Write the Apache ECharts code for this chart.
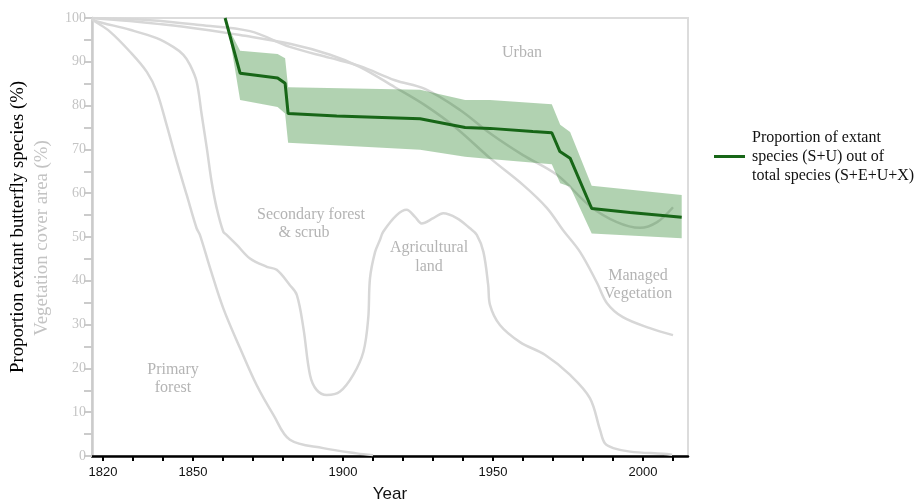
<!DOCTYPE html>
<html><head><meta charset="utf-8">
<script src="https://cdn.jsdelivr.net/npm/echarts@6/dist/echarts.min.js"></script>
<style>html,body{margin:0;padding:0;background:#fff}#c{width:920px;height:504px}</style>
</head><body><div id="c"></div>
<script>
// ---- Data ----
const xTickYears = [1820,1830,1840,1850,1860,1870,1880,1890,1900,1910,1920,1930,1940,1950,1960,1970,1980,1990,2000,2010];
const xLabelYears = [1820,1850,1900,1950,2000];

// Extant species proportion (green line)
const greenYears = [1860.7,1865.7,1878.2,1880.7,1881.7,1897.9,1925.7,1940.7,1949,1963.3,1969.6,1972.3,1975.7,1982.9,1995.7,2012.9];
const greenVals  = [100,87.4,86.3,85.1,78.2,77.6,77.0,75.0,74.8,74.1,73.8,69.5,68.0,56.5,55.6,54.5];

// Uncertainty band
const bandYears = [1860.7,1862.5,1865.7,1878.2,1880.7,1881.7,1925.7,1940.7,1949,1969.6,1972.4,1975.7,1982.9,2012.9];
const bandUpper = [100,96.8,92.5,91.8,90.8,84.2,83.6,81.3,81.3,80.3,75.6,74.0,61.7,59.6];
const bandLower = [100,94.5,81.3,79.7,78.2,71.5,69.9,68.3,67.8,66.6,62.3,61.5,50.8,49.7];

// Vegetation cover boundaries (cumulative %)
const primaryYears = [1816.3,1816.8,1822.3,1829,1834.6,1837.9,1841.2,1844.6,1847.9,1851.2,1852.3,1855.7,1860.1,1865.7,1871.2,1876.8,1882.3,1893.4,1904.6,1910];
const primaryVals  = [100,99.5,96.9,92.3,87.7,83.2,75.6,67.2,59.6,52.0,50.5,42.9,33.7,24.6,16.2,9.4,3.7,1.8,0.6,0.2];

const secondaryYears = [1816.3,1816.7,1829,1837.9,1843.4,1846.8,1849,1851.2,1852.9,1854.6,1856.2,1857.9,1860.1,1861.2,1864.6,1869,1874.6,1877.9,1882.3,1884.6,1886.8,1889,1891.2,1894.6,1899,1903.4,1906.8,1908.4,1909,1910.7,1912.3,1913.4,1917.9,1921.2,1924,1926.2,1930.1,1933.4,1937.9,1942.3,1944.6,1946.8,1948.4,1949,1952.3,1959,1967.3,1975.7,1982.3,1985.7,1987.3,1990.1,1995.7,2006.7,2009.7];
const secondaryVals  = [100,99.5,97.3,95.4,93.4,91.6,89.3,85.5,77.9,70.3,62.6,56.6,51.2,50.5,48.2,45.1,43.2,42.5,39.0,36.8,29.2,18.5,15.1,13.9,14.7,18.5,23.8,31.4,40.6,46.6,49.3,51.2,55.0,56.2,54.6,53.1,54.3,55.4,54.3,52.0,50.5,46.6,39.0,34.5,29.9,26.0,23.1,18.5,13.2,5.9,2.9,1.8,1.0,0.5,0.3];

const managedYears = [1816.3,1829,1839,1852.3,1865.7,1882.3,1895.7,1905.7,1917.3,1927.3,1937.7,1949,1960,1968,1973.3,1979,1984.7,1988,1993.3,2002.3,2010];
const managedVals  = [100,99.3,98.6,97.5,96.1,94.1,91.6,88.8,84.2,80.1,74.9,68.0,61.9,56.6,51.6,46.6,39.5,34.9,31.7,29.2,27.6];

const urbanYears = [1816.3,1835.7,1852.3,1869,1882.3,1895.7,1905.7,1917.3,1927.3,1939,1949,1960,1971.3,1982.3,1991.3,1999,2004.7,2010];
const urbanVals  = [100,99.5,98.4,97.0,93.4,90.9,89.0,85.8,83.8,79.0,73.7,68.7,64.2,57.1,53.4,52.1,53.4,56.8];

const legendName = 'Proportion of extant\nspecies (S+U) out of\ntotal species (S+E+U+X)';

// ---- Build ----
const zip = (a, b) => a.map((v, i) => [v, b[i]]);
const grayLine = (name, xs, ys) => ({
  name, type: 'line', data: zip(xs, ys), symbol: 'none', smooth: 0.35, silent: true,
  lineStyle: { color: '#d7d7d7', width: 2.5 }, z: 2
});

const chart = echarts.init(document.getElementById('c'), null, { renderer: 'canvas' });
const serif = '"Liberation Serif", "Times New Roman", serif';
const labelStyle = (text, x, y) => ({
  type: 'text', x, y, silent: true,
  style: { text, font: '16px ' + serif, fill: '#b4b4b4', textAlign: 'center', textVerticalAlign: 'middle', align: 'center', verticalAlign: 'middle' }
});

chart.setOption({
  animation: false,
  backgroundColor: '#fff',
  grid: { left: 92, right: 232, top: 18, bottom: 48, containLabel: false, outerBoundsMode: 'none',
          show: true, borderColor: '#dcdcdc', borderWidth: 2, backgroundColor: 'transparent' },
  legend: {
    data: [{ name: legendName, icon: 'rect' }],
    left: 709, top: 123, itemWidth: 31, itemHeight: 3,
    selectedMode: false,
    textStyle: { fontFamily: serif, fontSize: 16, color: '#111', lineHeight: 19, padding: [0, 0, 0, 2] }
  },
  xAxis: {
    type: 'value', min: 1816.33, max: 2015,
    name: 'Year', nameLocation: 'middle', nameGap: 30,
    nameTextStyle: { fontFamily: '"Liberation Sans", Arial, sans-serif', fontSize: 17, color: '#111' },
    axisLine: { show: true, onZero: false, lineStyle: { color: '#000', width: 2.5 } },
    axisTick: { show: true, length: 5, customValues: xTickYears, lineStyle: { color: '#000', width: 2 } },
    axisLabel: { customValues: xLabelYears, margin: 10, fontFamily: '"Liberation Sans", Arial, sans-serif', fontSize: 13, color: '#111', formatter: v => String(Math.round(v)) },
    splitLine: { show: false }
  },
  yAxis: {
    type: 'value', min: 0, max: 100, interval: 5,
    axisLine: { show: true, lineStyle: { color: '#cbcbcb', width: 2.5 } },
    axisTick: { show: true, length: 8, lineStyle: { color: '#cbcbcb', width: 2 } },
    axisLabel: { margin: 6, fontFamily: serif, fontSize: 14, color: '#c4c4c4', formatter: v => (v % 10 === 0 ? String(v) : '') },
    splitLine: { show: false }
  },
  graphic: [
    { type: 'text', x: 18, y: 227, rotation: Math.PI / 2, silent: true,
      style: { text: 'Proportion extant butterfly species (%)', font: '18.8px ' + serif, fill: '#000', textAlign: 'center', textVerticalAlign: 'middle', align: 'center', verticalAlign: 'middle' } },
    { type: 'text', x: 42, y: 238, rotation: Math.PI / 2, silent: true,
      style: { text: 'Vegetation cover area (%)', font: '18.8px ' + serif, fill: '#c3c3c3', textAlign: 'center', textVerticalAlign: 'middle', align: 'center', verticalAlign: 'middle' } },
    labelStyle('Urban', 522, 53),
    labelStyle('Secondary forest', 311, 215),
    labelStyle('& scrub', 304, 233),
    labelStyle('Agricultural', 429, 248),
    labelStyle('land', 429, 267),
    labelStyle('Managed', 638, 276),
    labelStyle('Vegetation', 638, 294),
    labelStyle('Primary', 173, 370),
    labelStyle('forest', 173, 388)
  ],
  series: [
    grayLine('Primary forest', primaryYears, primaryVals),
    grayLine('Secondary forest', secondaryYears, secondaryVals),
    grayLine('Managed vegetation', managedYears, managedVals),
    grayLine('Urban', urbanYears, urbanVals),
    {
      name: 'band', type: 'custom', silent: true, z: 3,
      data: bandYears.map((y, i) => [y, bandUpper[i], bandLower[i]]),
      encode: { x: 0, y: [1, 2] },
      renderItem: (params, api) => {
        if (params.dataIndex !== 0) return null;
        const top = bandYears.map((y, i) => api.coord([y, bandUpper[i]]));
        const bottom = bandYears.map((y, i) => api.coord([y, bandLower[i]])).reverse();
        return { type: 'polygon', shape: { points: top.concat(bottom) }, style: { fill: 'rgba(40,130,40,0.36)' } };
      }
    },
    { name: legendName, type: 'line', data: zip(greenYears, greenVals), symbol: 'none', color: '#176617',
      lineStyle: { color: '#176617', width: 3 }, itemStyle: { color: '#176617' }, z: 4 }
  ]
});
</script></body></html>
